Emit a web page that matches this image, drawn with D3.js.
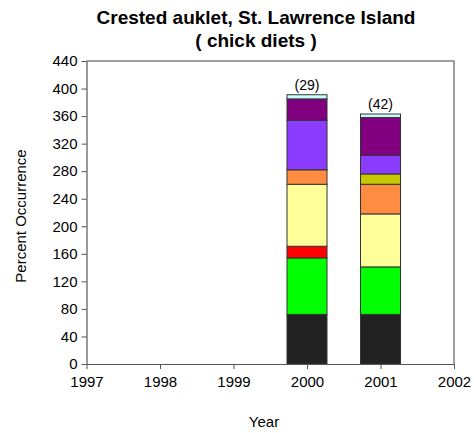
<!DOCTYPE html>
<html><head><meta charset="utf-8">
<script src="https://cdn.jsdelivr.net/npm/d3@7"></script>
<style>body{margin:0;background:#fff;} text{font-family:Arial,"Liberation Sans",sans-serif;}</style>
</head><body>
<svg id="c" width="474" height="433"></svg>
<script>
const years = [2000, 2001];
const sampleLabels = ["(29)", "(42)"];
const seriesNames = ["s1","s2","s3","s4","s5","s6","s7","s8","s9"];
const seriesColors = ["#222222","#00ff00","#ff0000","#ffff99","#ff8c40","#c8c800","#8c3cff","#800080","#ccffff"];
const values2000 = [72, 82, 17, 90, 21, 0, 72, 31, 6];
const values2001 = [72, 69, 0, 77, 43, 15, 27, 55, 5];
const yTicks = [0,40,80,120,160,200,240,280,320,360,400,440];
const xTicks = [1997,1998,1999,2000,2001,2002];

const svg = d3.select("#c");
const L = 86.5, R = 454, T = 61, B = 364;
const x = d3.scaleLinear().domain([1997, 2002]).range([L, R]);
const y = d3.scaleLinear().domain([0, 440]).range([B, T]);

const rows = years.map((yr, i) => {
  const vals = i === 0 ? values2000 : values2001;
  const o = {year: yr};
  seriesNames.forEach((s, j) => o[s] = vals[j]);
  return o;
});
const stack = d3.stack().keys(seriesNames)(rows);

svg.append("path").attr("d", `M${L},${T}H${R}V${B}`).attr("fill","none").attr("stroke","#808080").attr("stroke-width",1.5);

const bw = 40;
const g = svg.append("g");
stack.forEach((layer, j) => {
  g.selectAll(null).data(layer.filter(d => d[1] - d[0] > 0)).enter().append("rect")
    .attr("x", d => x(d.data.year) - bw/2)
    .attr("width", bw)
    .attr("y", d => y(d[1]))
    .attr("height", d => y(d[0]) - y(d[1]))
    .attr("fill", seriesColors[j])
    .attr("stroke", "#333").attr("stroke-width", 1);
});

rows.forEach((r, i) => {
  const tot = d3.sum(seriesNames, s => r[s]);
  svg.append("text").attr("x", x(r.year)).attr("y", y(tot) - 5)
    .attr("text-anchor","middle").attr("font-size", 14).attr("fill","#000").text(sampleLabels[i]);
});

const yAxis = svg.append("g").attr("transform", `translate(${L},0)`)
  .call(d3.axisLeft(y).tickValues(yTicks).tickSize(5).tickSizeOuter(0).tickFormat(d3.format("d")));
const xAxis = svg.append("g").attr("transform", `translate(0,${B})`)
  .call(d3.axisBottom(x).tickValues(xTicks).tickSize(5).tickSizeOuter(0).tickFormat(d3.format("d")));
[yAxis, xAxis].forEach(a => {
  a.select(".domain").attr("stroke","#555").attr("stroke-width",1.2);
  a.selectAll(".tick line").attr("stroke","#555");
  a.selectAll("text").attr("font-size", 15).attr("fill","#000").attr("font-family","Arial, 'Liberation Sans', sans-serif");
});
yAxis.selectAll("text").attr("x", -9);
xAxis.selectAll("text").attr("y", 12);

svg.append("text").attr("x", 256).attr("y", 24).attr("text-anchor","middle")
  .attr("font-size", 19).attr("font-weight","bold").text("Crested auklet, St. Lawrence Island");
svg.append("text").attr("x", 256).attr("y", 47).attr("text-anchor","middle")
  .attr("font-size", 19).attr("font-weight","bold").text("( chick diets )");
svg.append("text").attr("x", 264).attr("y", 427).attr("text-anchor","middle")
  .attr("font-size", 15).text("Year");
svg.append("text").attr("transform", "translate(26,216) rotate(-90)").attr("text-anchor","middle")
  .attr("font-size", 15).text("Percent Occurrence");
</script>
</body></html>
